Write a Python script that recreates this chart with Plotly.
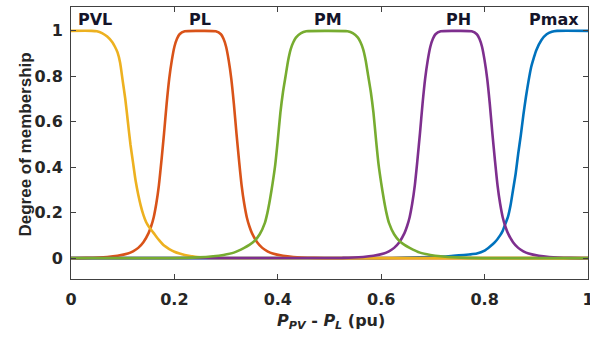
import plotly.graph_objects as go

# ---- data ----
x_pvl = [0, 0.04, 0.05, 0.06, 0.07, 0.08, 0.085, 0.09, 0.095, 0.10, 0.105, 0.11, 0.115, 0.12,
         0.125, 0.13, 0.135, 0.14, 0.145, 0.15, 0.155, 0.16, 0.17, 0.18, 0.19, 0.20, 0.21,
         0.22, 0.24, 0.26, 0.30, 1.0]
y_pvl = [1, 1, 0.998, 0.99, 0.975, 0.95, 0.93, 0.905, 0.86, 0.78, 0.70, 0.60, 0.50, 0.42,
         0.34, 0.28, 0.23, 0.19, 0.16, 0.14, 0.125, 0.11, 0.08, 0.055, 0.04, 0.028, 0.02,
         0.014, 0.006, 0.002, 0, 0]

x_pl = [0, 0.03, 0.07, 0.09, 0.11, 0.12, 0.13, 0.14, 0.15, 0.155, 0.16, 0.165, 0.17, 0.175,
        0.18, 0.185, 0.19, 0.195, 0.20, 0.205, 0.21, 0.22, 0.25, 0.28, 0.29, 0.295, 0.30,
        0.305, 0.31, 0.315, 0.32, 0.325, 0.33, 0.335, 0.34, 0.345, 0.35, 0.36, 0.37, 0.38,
        0.39, 0.41, 0.43, 0.47, 0.5, 1.0]
y_pl = [0, 0.001, 0.005, 0.01, 0.02, 0.03, 0.045, 0.07, 0.11, 0.14, 0.18, 0.24, 0.32, 0.43,
        0.55, 0.68, 0.79, 0.87, 0.93, 0.965, 0.985, 0.998, 1, 0.998, 0.985, 0.965, 0.93,
        0.87, 0.79, 0.68, 0.55, 0.43, 0.32, 0.24, 0.18, 0.14, 0.11, 0.07, 0.045, 0.03,
        0.02, 0.01, 0.005, 0.001, 0, 0]

x_pm = [0, 0.195, 0.245, 0.275, 0.295, 0.315, 0.335, 0.345, 0.355, 0.365, 0.375, 0.38,
        0.385, 0.39, 0.395, 0.40, 0.405, 0.41, 0.415, 0.42, 0.425, 0.43, 0.435, 0.445,
        0.455, 0.495, 0.535, 0.545, 0.555, 0.56, 0.565, 0.57, 0.575, 0.58, 0.585, 0.59,
        0.595, 0.60, 0.605, 0.61, 0.615, 0.625, 0.635, 0.645, 0.655, 0.675, 0.695, 0.715,
        0.745, 0.795, 1.0]
y_pm = [0, 0, 0.003, 0.008, 0.014, 0.024, 0.045, 0.058, 0.076, 0.105, 0.155, 0.20,
        0.26, 0.33, 0.41, 0.52, 0.64, 0.73, 0.80, 0.87, 0.92, 0.95, 0.97, 0.99,
        0.998, 1, 0.998, 0.99, 0.97, 0.95, 0.92, 0.87, 0.80, 0.73, 0.64, 0.52,
        0.41, 0.33, 0.26, 0.20, 0.155, 0.105, 0.076, 0.058, 0.045, 0.024, 0.014, 0.008,
        0.003, 0, 0]

x_ph = [0, 0.525, 0.565, 0.585, 0.605, 0.615, 0.625, 0.635, 0.645, 0.65, 0.655, 0.66,
        0.665, 0.67, 0.675, 0.68, 0.685, 0.69, 0.695, 0.70, 0.705, 0.715, 0.745, 0.775,
        0.785, 0.79, 0.795, 0.80, 0.805, 0.81, 0.815, 0.82, 0.825, 0.83, 0.835, 0.84,
        0.845, 0.855, 0.865, 0.875, 0.885, 0.905, 0.925, 0.965, 1.0]
y_ph = [0, 0.001, 0.005, 0.01, 0.02, 0.03, 0.045, 0.07, 0.11, 0.14, 0.18, 0.24,
        0.32, 0.43, 0.55, 0.68, 0.79, 0.87, 0.93, 0.965, 0.985, 0.998, 1, 0.998,
        0.985, 0.965, 0.93, 0.87, 0.79, 0.68, 0.55, 0.43, 0.32, 0.24, 0.18, 0.14,
        0.11, 0.07, 0.045, 0.03, 0.02, 0.01, 0.005, 0.001, 0]

x_pmax = [0, 0.60, 0.65, 0.70, 0.73, 0.75, 0.77, 0.785, 0.80, 0.81, 0.82, 0.83, 0.835,
          0.84, 0.845, 0.85, 0.855, 0.86, 0.865, 0.87, 0.875, 0.88, 0.885, 0.89, 0.895,
          0.90, 0.91, 0.92, 0.93, 0.94, 1.0]
y_pmax = [0, 0, 0.002, 0.005, 0.008, 0.012, 0.016, 0.02, 0.033, 0.05, 0.07, 0.10, 0.12,
          0.15, 0.18, 0.23, 0.30, 0.37, 0.46, 0.54, 0.63, 0.71, 0.78, 0.84, 0.88,
          0.915, 0.96, 0.985, 0.996, 1, 1]

labels = ["PVL", "PL", "PM", "PH", "Pmax"]
label_x = [0.046, 0.2495, 0.497, 0.749, 0.934]
label_y = [1.05, 1.05, 1.05, 1.05, 1.05]

tick_vals = [0, 0.2, 0.4, 0.6, 0.8, 1]
tick_text = ["0", "0.2", "0.4", "0.6", "0.8", "1"]

# ---- figure ----
fig = go.Figure()
series = [  # MATLAB draw order
    (x_pmax, y_pmax, "#0072BD", "Pmax"),
    (x_pl, y_pl, "#D95319", "PL"),
    (x_pvl, y_pvl, "#EDB120", "PVL"),
    (x_ph, y_ph, "#7E2F8E", "PH"),
    (x_pm, y_pm, "#77AC30", "PM"),
]
for xs, ys, col, nm in series:
    fig.add_trace(go.Scatter(x=xs, y=ys, mode="lines", name=nm, cliponaxis=True,
                             line=dict(color=col, width=2.6, shape="spline", smoothing=0.6)))

for t, lx, ly in zip(labels, label_x, label_y):
    fig.add_annotation(x=lx, y=ly, xref="x", yref="y", text="<b>%s</b>" % t,
                       showarrow=False, font=dict(family="DejaVu Sans", size=16, color="#14142a"))

fig.add_annotation(x=0.503, y=-0.158, xref="paper", yref="paper", yanchor="middle",
                   text="<b><i>P<sub>PV</sub></i> - <i>P<sub>L</sub></i> (pu)</b>",
                   showarrow=False, font=dict(family="DejaVu Sans", size=16, color="#262626"))
fig.add_annotation(x=-0.110, y=0.493, xref="paper", yref="paper", textangle=-90,
                   text="<b>Degree of membership</b>",
                   showarrow=False, font=dict(family="Liberation Sans", size=17, color="#262626"))

axis_common = dict(showgrid=False, zeroline=False, showline=True, linecolor="#404040",
                   linewidth=1, mirror="ticks", ticks="inside", ticklen=5, tickwidth=1,
                   tickcolor="#404040", ticklabeloverflow="allow",
                   tickfont=dict(family="DejaVu Sans", size=16, color="#262626", weight="bold"),
                   tickvals=tick_vals, ticktext=tick_text)
fig.update_xaxes(range=[0, 1], ticklabelstandoff=6, **axis_common)
fig.update_yaxes(range=[-0.092, 1.105], ticklabelstandoff=4, **axis_common)

fig.update_layout(width=590, height=340,
                  margin=dict(l=71, r=2, t=7, b=61, autoexpand=False),
                  plot_bgcolor="white", paper_bgcolor="white", showlegend=False)

fig.write_html("out.html", config={"displayModeBar": False},
               post_script="document.body.style.margin='0';document.body.style.overflow='hidden';")
